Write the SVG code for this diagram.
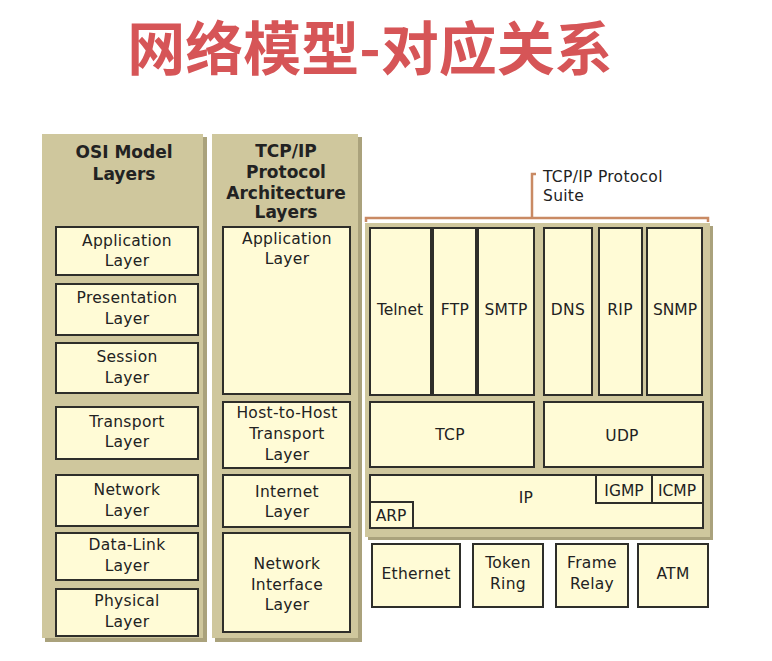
<svg xmlns="http://www.w3.org/2000/svg" width="772" height="661" viewBox="0 0 772 661">
<style>
.panel{fill:#cfc79d}
.shadow{fill:#aaa27c}
.box{fill:#fffbd6;stroke:#2e2e2a;stroke-width:2}
.t{font-family:"DejaVu Sans",Verdana,sans-serif;font-size:15.5px;fill:#222;text-anchor:middle;letter-spacing:0.3px}
.h{font-family:"DejaVu Sans",Verdana,sans-serif;font-size:17px;font-weight:bold;fill:#222;text-anchor:middle}
.title{font-family:"Noto Sans CJK SC","Noto Sans",sans-serif;font-size:58px;font-weight:bold;fill:#d65557;text-anchor:middle}
.br{fill:none;stroke:#c98a64;stroke-width:2.5}
</style>
<rect width="772" height="661" fill="#ffffff"/>
<text class="title" x="370" y="70">网络模型-对应关系</text>

<g id="osi-panel">
<rect class="shadow" x="45" y="137" width="162" height="505"/>
<rect class="panel" x="42" y="134" width="161" height="504"/>
<text class="h" x="124" y="158">OSI Model</text>
<text class="h" x="124" y="180">Layers</text>
</g>
<g id="osi-application"><rect class="box" x="56" y="227" width="142" height="48"/><text class="t" x="127" y="246">Application</text><text class="t" x="127" y="266">Layer</text></g>
<g id="osi-presentation"><rect class="box" x="56" y="284" width="142" height="51"/><text class="t" x="127" y="303">Presentation</text><text class="t" x="127" y="324">Layer</text></g>
<g id="osi-session"><rect class="box" x="56" y="343" width="142" height="50"/><text class="t" x="127" y="362">Session</text><text class="t" x="127" y="383">Layer</text></g>
<g id="osi-transport"><rect class="box" x="56" y="407" width="142" height="52"/><text class="t" x="127" y="427">Transport</text><text class="t" x="127" y="447">Layer</text></g>
<g id="osi-network"><rect class="box" x="56" y="475" width="142" height="51"/><text class="t" x="127" y="495">Network</text><text class="t" x="127" y="516">Layer</text></g>
<g id="osi-datalink"><rect class="box" x="56" y="533" width="142" height="47"/><text class="t" x="127" y="550">Data-Link</text><text class="t" x="127" y="571">Layer</text></g>
<g id="osi-physical"><rect class="box" x="56" y="589" width="142" height="47"/><text class="t" x="127" y="606">Physical</text><text class="t" x="127" y="627">Layer</text></g>

<g id="tcpip-panel">
<rect class="shadow" x="215" y="137" width="147" height="505"/>
<rect class="panel" x="212" y="134" width="146" height="504"/>
<text class="h" x="286" y="157">TCP/IP</text>
<text class="h" x="286" y="178">Protocol</text>
<text class="h" x="286" y="199">Architecture</text>
<text class="h" x="286" y="218">Layers</text>
</g>
<g id="tcpip-application"><rect class="box" x="223" y="227" width="127" height="167"/><text class="t" x="287" y="244">Application</text><text class="t" x="287" y="264">Layer</text></g>
<g id="tcpip-transport"><rect class="box" x="223" y="402" width="127" height="66"/><text class="t" x="287" y="418">Host-to-Host</text><text class="t" x="287" y="439">Transport</text><text class="t" x="287" y="460">Layer</text></g>
<g id="tcpip-internet"><rect class="box" x="223" y="475" width="127" height="52"/><text class="t" x="287" y="497">Internet</text><text class="t" x="287" y="517">Layer</text></g>
<g id="tcpip-netif"><rect class="box" x="223" y="533" width="127" height="99"/><text class="t" x="287" y="569">Network</text><text class="t" x="287" y="590">Interface</text><text class="t" x="287" y="610">Layer</text></g>

<g id="suite-label">
<path class="br" d="M366 222 V218 H708 V222 M532 218 V174 H536"/>
<text class="t" x="543" y="182" style="text-anchor:start">TCP/IP Protocol</text>
<text class="t" x="543" y="201" style="text-anchor:start">Suite</text>
</g>
<g id="suite-panel">
<rect class="shadow" x="368" y="226" width="345" height="314"/>
<rect class="panel" x="365" y="223" width="345" height="314"/>
</g>
<g id="telnet"><rect class="box" x="370" y="228" width="61" height="167"/><text class="t" x="400" y="315" style="letter-spacing:0">Telnet</text></g>
<g id="ftp"><rect class="box" x="433" y="228" width="43" height="167"/><text class="t" x="455" y="315">FTP</text></g>
<g id="smtp"><rect class="box" x="478" y="228" width="56" height="167"/><text class="t" x="506" y="315">SMTP</text></g>
<g id="dns"><rect class="box" x="544" y="228" width="48" height="167"/><text class="t" x="568" y="315">DNS</text></g>
<g id="rip"><rect class="box" x="599" y="228" width="43" height="167"/><text class="t" x="620" y="315">RIP</text></g>
<g id="snmp"><rect class="box" x="647" y="228" width="55" height="167"/><text class="t" x="675" y="315" style="letter-spacing:0">SNMP</text></g>
<g id="tcp"><rect class="box" x="370" y="402" width="164" height="65"/><text class="t" x="450" y="440">TCP</text></g>
<g id="udp"><rect class="box" x="544" y="402" width="159" height="65"/><text class="t" x="622" y="441">UDP</text></g>
<g id="ip"><rect class="box" x="370" y="475" width="333" height="53"/><text class="t" x="526" y="503">IP</text></g>
<g id="igmp"><rect class="box" x="596" y="475" width="56" height="28"/><text class="t" x="624" y="496" style="letter-spacing:0">IGMP</text></g>
<g id="icmp"><rect class="box" x="652" y="475" width="51" height="28"/><text class="t" x="677" y="496" style="letter-spacing:0">ICMP</text></g>
<g id="arp"><rect class="box" x="370" y="502" width="43" height="26"/><text class="t" x="391" y="521" style="letter-spacing:0">ARP</text></g>

<g id="ethernet"><rect class="box" x="372" y="544" width="88" height="63"/><text class="t" x="416" y="579">Ethernet</text></g>
<g id="tokenring"><rect class="box" x="473" y="544" width="70" height="63"/><text class="t" x="508" y="568">Token</text><text class="t" x="508" y="589">Ring</text></g>
<g id="framerelay"><rect class="box" x="556" y="544" width="72" height="63"/><text class="t" x="592" y="568">Frame</text><text class="t" x="592" y="589">Relay</text></g>
<g id="atm"><rect class="box" x="638" y="544" width="70" height="63"/><text class="t" x="673" y="579">ATM</text></g>
<g id="connectors"></g>
</svg>
